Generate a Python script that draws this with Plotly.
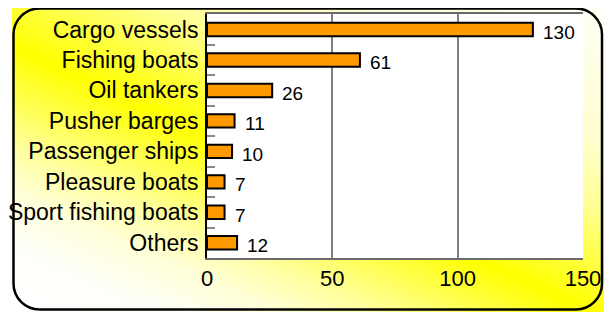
import base64
import plotly.graph_objects as go

categories = ["Cargo vessels", "Fishing boats", "Oil tankers", "Pusher barges",
              "Passenger ships", "Pleasure boats", "Sport fishing boats", "Others"]
values = [130, 61, 26, 11, 10, 7, 7, 12]
x_ticks = [0, 50, 100, 150]

# page body has an 8px margin, so the figure is drawn at (8, 8) in the window
W, H = 604, 304
ML, MR, MT, MB = 199, 29, 6, 54
PW, PH = W - ML - MR, H - MT - MB

FONT = "Liberation Sans, Arial, sans-serif"

svg = f'''<svg xmlns="http://www.w3.org/2000/svg" width="{W}" height="{H}" viewBox="0 0 {W} {H}">
<defs>
<linearGradient id="g" gradientUnits="userSpaceOnUse" x1="-77.7" y1="264.2" x2="140.5" y2="-211.1">
<stop offset="0" stop-color="#ffffff"/>
<stop offset="0.113" stop-color="#fffffa"/>
<stop offset="0.208" stop-color="#ffffd8"/>
<stop offset="0.285" stop-color="#ffffa0"/>
<stop offset="0.371" stop-color="#ffff50"/>
<stop offset="0.457" stop-color="#ffff00"/>
<stop offset="0.543" stop-color="#ffff40"/>
<stop offset="0.648" stop-color="#ffff98"/>
<stop offset="0.763" stop-color="#ffffd0"/>
<stop offset="1" stop-color="#fffff8"/>
</linearGradient>
</defs>
<rect x="4" y="-1" width="594" height="310" fill="url(#g)"/>
<path d="M600,21 L600,297" stroke="#000" stroke-width="3" fill="none" stroke-linecap="round"/>
<rect x="5.5" y="0.5" width="588.5" height="301" rx="26" ry="26" fill="none" stroke="#000" stroke-width="2.5"/>
<rect x="{ML}" y="{MT}" width="{PW}" height="{PH}" fill="#ffffff"/>
</svg>'''
src = "data:image/svg+xml;base64," + base64.b64encode(svg.encode()).decode()

fig = go.Figure()
fig.add_trace(go.Bar(
    x=values, y=categories, orientation="h",
    marker=dict(color="#ff9900", line=dict(color="#000000", width=2)),
    width=0.44, hoverinfo="skip",
))

for c, v in zip(categories, values):
    fig.add_annotation(x=v, y=c, text=str(v), showarrow=False, xanchor="left",
                       xshift=8, yshift=-3, font=dict(size=19, color="#000", family=FONT))

fig.add_layout_image(dict(
    source=src, xref="paper", yref="paper",
    x=-ML / PW, y=1 + MT / PH, sizex=W / PW, sizey=H / PH,
    xanchor="left", yanchor="top", sizing="stretch", layer="below",
))

fig.update_layout(
    width=W, height=H,
    margin=dict(l=ML, r=MR, t=MT, b=MB, pad=0, autoexpand=False),
    paper_bgcolor="#ffffff", plot_bgcolor="#ffffff",
    showlegend=False,
    font=dict(family=FONT, color="#000"),
    xaxis=dict(range=[0, 150], tickvals=x_ticks, showgrid=True, gridcolor="#7f7f7f",
               gridwidth=1.5, zeroline=False, showline=True, linecolor="#6a6a6a",
               linewidth=2, mirror=True, ticks="", tickfont=dict(size=22, family=FONT),
               fixedrange=True, automargin=False),
    yaxis=dict(autorange="reversed", type="category", showgrid=False, zeroline=False,
               showline=True, linecolor="#000000", linewidth=2,
               ticks="inside", tickson="boundaries", ticklen=8, tickcolor="#888888",
               tickwidth=1.5, ticklabelstandoff=2, tickfont=dict(size=23, family=FONT),
               fixedrange=True, automargin=False),
)

fig.write_html("out.html")
